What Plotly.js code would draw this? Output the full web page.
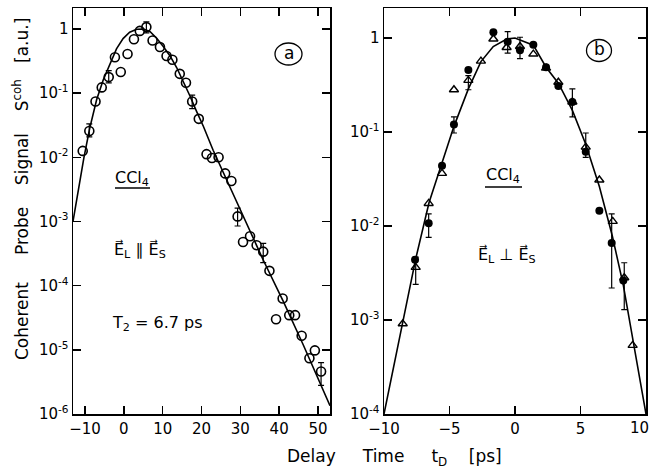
<!DOCTYPE html>
<html>
<head>
<meta charset="utf-8">
<script src="https://cdn.plot.ly/plotly-3.0.1.min.js"></script>
<style>html,body{margin:0;padding:0;background:#fff}#plot{width:651px;height:471px}</style>
</head>
<body>
<div id="plot"></div>
<script>
// ---- Panel (a): E_L || E_S ----
const aX = [-10.6,-8.9,-7.3,-5.7,-3.9,-2.3,-0.8,0.95,2.6,4.1,5.8,7.4,9.3,11.0,12.5,14.4,16.0,17.6,19.3,21.3,22.7,24.4,26.1,27.7,29.3,30.7,32.5,34.2,35.9,37.5,39.2,40.9,42.6,44.1,45.8,47.8,49.2,50.8];
const aY = [0.0126,0.0257,0.0741,0.123,0.178,0.363,0.214,0.407,0.692,0.933,1.07,0.661,0.525,0.380,0.331,0.200,0.145,0.0741,0.0398,0.0112,0.00977,0.0100,0.00562,0.00427,0.00120,4.79e-4,5.9e-4,4.27e-4,3.39e-4,1.70e-4,3.0e-5,6.3e-5,3.47e-5,3.47e-5,1.66e-5,7.4e-6,9.8e-6,4.6e-6];
const aHi = [null,0.0331,null,null,0.224,null,null,null,null,null,1.29,null,null,null,null,null,null,0.0933,null,null,null,null,null,null,0.00162,null,null,null,4.57e-4,null,null,null,null,null,null,null,null,6.3e-6];
const aLo = [null,0.0209,null,null,0.145,null,null,null,null,null,0.87,null,null,null,null,null,null,0.0575,null,null,null,null,null,null,0.00085,null,null,null,2.29e-4,null,null,null,null,null,null,null,null,2.8e-6];
const fitAX = [-13.1,-10.3,-8.8,-7.0,-5.3,-3.6,-1.9,-0.2,1.5,3.3,5.0,6.7,8.4,10.1,11.9,13.6,15.3,17.0,18.7,20.5,23.0,26.5,29.9,32.7,35.9,41.1,46.2,53.1];
const fitAY = [1.0e-3,0.00977,0.0282,0.0794,0.162,0.282,0.490,0.708,0.891,0.989,1.0,0.912,0.724,0.537,0.380,0.251,0.155,0.0912,0.0525,0.0302,0.0129,0.00437,0.00155,6.46e-4,2.51e-4,5.62e-5,1.20e-5,1.35e-6];
const aXTicks = [-10,0,10,20,30,40,50];
const aYTicks = [1e-6,1e-5,1e-4,1e-3,1e-2,1e-1,1];
const aYTickText = ['10<sup>-6</sup>','10<sup>-5</sup>','10<sup>-4</sup>','10<sup>-3</sup>','10<sup>-2</sup>','10<sup>-1</sup>','1'];

// ---- Panel (b): E_L ⊥ E_S ----
const bDotX = [-7.63,-6.59,-5.57,-4.66,-3.56,-1.65,-0.56,0.38,1.40,2.37,3.31,4.38,5.4,6.44,7.38,8.27];
const bDotY = [0.00437,0.0107,0.0437,0.120,0.457,1.15,0.912,0.741,0.851,0.490,0.309,0.209,0.0617,0.0145,0.00661,0.00263];
const bDotHi = [null,0.0135,null,0.145,null,null,1.17,1.02,null,null,null,null,null,null,0.0135,null];
const bDotLo = [null,0.00759,null,0.0977,null,null,0.692,0.603,null,null,null,null,null,null,0.00219,null];
const bTriX = [-8.57,-7.58,-6.59,-5.57,-4.66,-3.56,-2.6,-1.65,-0.64,0.38,1.40,2.37,3.31,4.38,5.4,6.44,7.46,8.34,8.98];
const bTriY = [9.12e-4,0.00363,0.0174,0.0363,0.282,0.355,0.569,0.977,0.794,0.813,0.676,0.479,0.339,0.209,0.0692,0.0309,0.0112,0.00282,5.37e-4];
const bTriHi = [null,0.00468,null,null,null,0.398,null,null,null,null,null,null,null,0.288,0.0977,null,null,0.00407,null];
const bTriLo = [null,0.0024,null,null,null,0.282,null,null,null,null,null,null,null,0.145,0.0537,null,null,0.00129,null];
const fitBX = [-10,-8.6,-7.58,-6.56,-5.55,-4.66,-3.56,-2.6,-1.66,-0.63,0,1.4,2.37,3.31,4.38,5.4,6.44,7.42,8.27,9.03,10];
const fitBY = [1e-4,9.12e-4,0.00447,0.0178,0.0479,0.115,0.288,0.562,0.813,0.977,1.0,0.841,0.490,0.331,0.170,0.0741,0.0263,0.00794,0.00234,6.03e-4,1e-4];
const bXTicks = [-10,-5,0,5,10];
const bXTickText = ['\u221210','\u22125','0','5',''];   // last label drawn right-aligned below, so it stays inside the page
const bYTicks = [1e-4,1e-3,1e-2,1e-1,1];
const bYTickText = ['10<sup>-4</sup>','10<sup>-3</sup>','10<sup>-2</sup>','10<sup>-1</sup>','1'];

// helpers
const W = 651, H = 471;
const PX = p => p / W, PY = p => 1 - p / H;
const up = (hi, y) => hi.map((h, i) => h == null ? NaN : h - y[i]);
const dn = (lo, y) => lo.map((l, i) => l == null ? NaN : y[i] - l);
const FONT = 'DejaVu Sans, sans-serif';
const errStyle = (hi, lo, y) => ({type:'data', symmetric:false, array:up(hi,y), arrayminus:dn(lo,y), color:'#000', thickness:1.2, width:3});

const traces = [
  {x: fitAX, y: fitAY, xaxis:'x', yaxis:'y', mode:'lines', line:{color:'#000', width:1.6}, hoverinfo:'skip'},
  {x: aX, y: aY, xaxis:'x', yaxis:'y', mode:'markers',
   marker:{symbol:'circle-open', size:9, color:'#000', line:{width:1.6}},
   error_y: errStyle(aHi, aLo, aY)},
  {x: fitBX, y: fitBY, xaxis:'x2', yaxis:'y2', mode:'lines', line:{color:'#000', width:1.6}, hoverinfo:'skip'},
  {x: bTriX, y: bTriY, xaxis:'x2', yaxis:'y2', mode:'markers',
   marker:{symbol:'triangle-up-open', size:8, color:'#000', line:{width:1.4}},
   error_y: errStyle(bTriHi, bTriLo, bTriY)},
  {x: bDotX, y: bDotY, xaxis:'x2', yaxis:'y2', mode:'markers',
   marker:{symbol:'circle', size:8, color:'#000'},
   error_y: errStyle(bDotHi, bDotLo, bDotY)}
];

const axCommon = {showline:true, linecolor:'#000', linewidth:1.5, mirror:'ticks', ticks:'inside',
  ticklen:8, tickwidth:1.5, tickcolor:'#000', showgrid:false, zeroline:false, ticklabeloverflow:'allow',
  tickfont:{family:FONT, size:15, color:'#000'}};

const yDom = [PY(414), PY(8)];
const ann = (px, py, text, size, extra) => Object.assign({xref:'paper', yref:'paper', x:PX(px), y:PY(py),
  xanchor:'center', yanchor:'middle', text:text, showarrow:false, font:{family:FONT, size:size, color:'#000'}}, extra || {});
const layout = {
  width: W, height: H, margin:{l:0, r:0, t:0, b:0},
  paper_bgcolor:'#fff', plot_bgcolor:'#fff', showlegend:false,
  font:{family:FONT, color:'#000'},
  xaxis: Object.assign({}, axCommon, {domain:[PX(73), PX(330)], range:[-13.1, 53.1], tickvals:aXTicks, anchor:'y'}),
  yaxis: Object.assign({}, axCommon, {domain:yDom, type:'log', range:[-6, 0.327], tickvals:aYTicks, ticktext:aYTickText, anchor:'x'}),
  xaxis2: Object.assign({}, axCommon, {domain:[PX(384), PX(646)], range:[-10, 10], tickvals:bXTicks, ticktext:bXTickText, anchor:'y2'}),
  yaxis2: Object.assign({}, axCommon, {domain:yDom, type:'log', range:[-4, 0.32], tickvals:bYTicks, ticktext:bYTickText, anchor:'x2'}),
  shapes: [
    {type:'circle', xref:'paper', yref:'paper', x0:PX(275), x1:PX(302), y0:PY(65), y1:PY(43), line:{color:'#000', width:1.3}},
    {type:'circle', xref:'paper', yref:'paper', x0:PX(586.5), x1:PX(611.5), y0:PY(61.5), y1:PY(39.5), line:{color:'#000', width:1.3}},
    {type:'line', xref:'paper', yref:'paper', x0:PX(115), x1:PX(150), y0:PY(188), y1:PY(188), line:{color:'#000', width:1.5}},
    {type:'line', xref:'paper', yref:'paper', x0:PX(485), x1:PX(522), y0:PY(187), y1:PY(187), line:{color:'#000', width:1.5}}
  ],
  annotations: [
    {xref:'x2', yref:'paper', x:bXTicks[4], y:PY(428), xanchor:'right', yanchor:'middle', xshift:5,
     text:String(bXTicks[4]), showarrow:false, font:{family:FONT, size:15, color:'#000'}},
    ann(288.5, 53, 'a', 17),
    ann(599, 49.5, 'b', 17),
    ann(132, 178, 'CCl<sub>4</sub>', 16),
    ann(503, 176, 'CCl<sub>4</sub>', 16),
    ann(140, 250, 'E\u20D7<sub>L</sub> \u2225 E\u20D7<sub>S</sub>', 16),
    ann(507, 255, 'E\u20D7<sub>L</sub> \u22A5 E\u20D7<sub>S</sub>', 16),
    ann(157, 323, 'T<sub>2</sub> = 6.7 ps', 16),
    ann(21, 189, 'Coherent\u00A0\u00A0\u00A0\u00A0 Probe\u00A0\u00A0\u00A0 Signal\u00A0\u00A0\u00A0 S<sup>coh</sup>\u00A0\u00A0 [a.u.]', 17, {textangle:-90}),
    ann(394, 457, 'Delay\u00A0\u00A0\u00A0\u00A0 Time\u00A0\u00A0\u00A0\u00A0 t<sub>D</sub>\u00A0\u00A0\u00A0 [ps]', 17)
  ]
};

Plotly.newPlot('plot', traces, layout, {displayModeBar:false, staticPlot:true});
</script>
</body>
</html>
